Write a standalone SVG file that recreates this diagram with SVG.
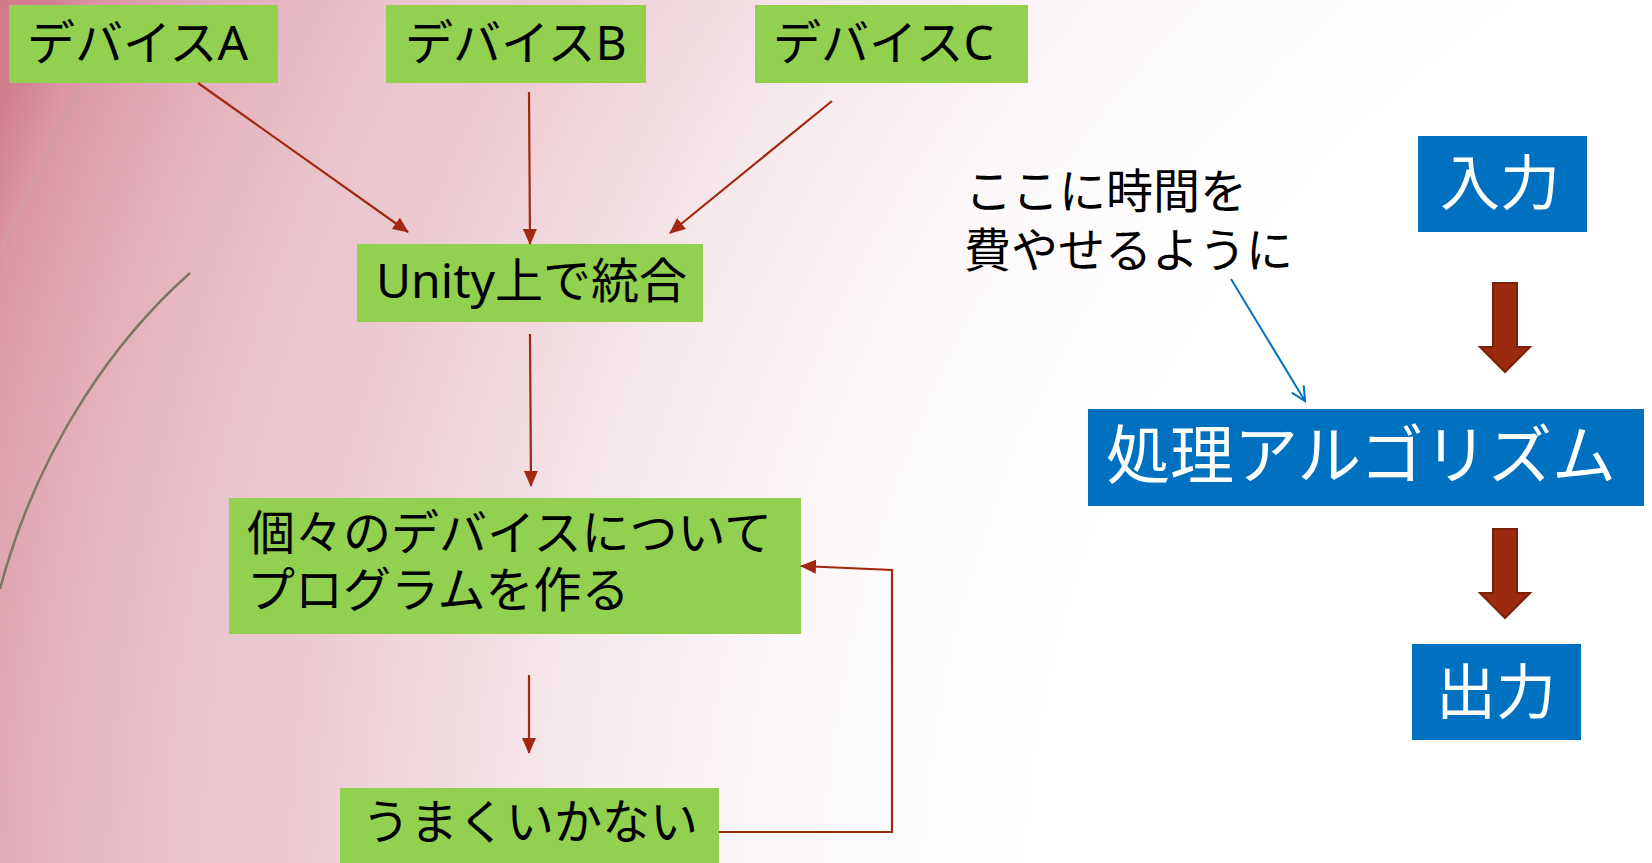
<svg xmlns="http://www.w3.org/2000/svg" width="1652" height="863" viewBox="0 0 1652 863">
<defs>
<radialGradient id="bg" gradientUnits="userSpaceOnUse" cx="2120" cy="920" r="2320">
<stop offset="0" stop-color="#ffffff"/>
<stop offset="0.474" stop-color="#ffffff"/>
<stop offset="0.56" stop-color="#fdfafb"/>
<stop offset="0.664" stop-color="#f7ebee"/>
<stop offset="0.789" stop-color="#eccad1"/>
<stop offset="0.843" stop-color="#e9c3cb"/>
<stop offset="0.902" stop-color="#e4b0bc"/>
<stop offset="0.954" stop-color="#db98a6"/>
<stop offset="0.978" stop-color="#d27d8e"/>
<stop offset="1" stop-color="#d17a8c"/>
</radialGradient>
<marker id="ah" markerUnits="userSpaceOnUse" markerWidth="16" markerHeight="14" refX="15" refY="7" orient="auto">
<path d="M0,0 L16,7 L0,14 Z" fill="#a0290f"/>
</marker>
<marker id="ob" markerUnits="userSpaceOnUse" markerWidth="18" markerHeight="18" refX="15" refY="8" orient="auto">
<path d="M1,1 L15,8 L1,15" fill="none" stroke="#0070c0" stroke-width="2"/>
</marker>
</defs>
<style>
.g{fill:#92d050}
.b{fill:#0070c0}
.t{font-family:"Noto Sans","Noto Sans CJK JP",sans-serif;font-size:48px;fill:#000}
.n{font-family:"Noto Sans","Noto Sans CJK JP",sans-serif;font-size:47px;fill:#000}
.w{font-family:"Noto Sans","Noto Sans CJK JP",sans-serif;fill:#fff}
.c{stroke:#a0290f;stroke-width:2.2;fill:none}
.blk{fill:#9c2a10;stroke:#7a2008;stroke-width:2}
</style>
<rect width="1652" height="863" fill="url(#bg)"/>
<path d="M132,0 C90,70 40,160 0,252" fill="none" stroke="#c9a2a6" stroke-width="1.5"/>
<path d="M190,273 C120,335 40,440 0,589" fill="none" stroke="#7c7860" stroke-width="2.5"/>

<g id="devA"><rect class="g" x="9" y="5" width="269" height="78"/><text class="t" x="27" y="60">デバイスA</text></g>
<g id="devB"><rect class="g" x="386" y="5" width="260" height="78"/><text class="t" x="405" y="60">デバイスB</text></g>
<g id="devC"><rect class="g" x="755" y="5" width="273" height="78"/><text class="t" x="773" y="60">デバイスC</text></g>
<g id="unity"><rect class="g" x="357" y="244" width="346" height="78"/><text class="t" x="376" y="298">Unity上で統合</text></g>
<g id="program"><rect class="g" x="229" y="498" width="572" height="136"/><text class="t" x="247" y="550">個々のデバイスについて<tspan x="247" y="607">プログラムを作る</tspan></text></g>
<g id="fail"><rect class="g" x="340" y="788" width="379" height="80"/><text class="t" x="362" y="839">うまくいかない</text></g>

<g id="note"><text class="n" x="965" y="208">ここに時間を<tspan x="964" y="267">費やせるように</tspan></text></g>

<g id="input"><rect class="b" x="1418" y="136" width="169" height="96"/><text class="w" font-size="60" x="1440" y="205">入力</text></g>
<g id="algo"><rect class="b" x="1088" y="409" width="556" height="97"/><text class="w" font-size="64" x="1106" y="478">処理アルゴリズム</text></g>
<g id="output"><rect class="b" x="1412" y="644" width="169" height="96"/><text class="w" font-size="60" x="1436" y="714">出力</text></g>

<g id="connectors">
<line class="c" x1="198" y1="83" x2="408" y2="232" marker-end="url(#ah)"/>
<line class="c" x1="529" y1="92" x2="530" y2="244" marker-end="url(#ah)"/>
<line class="c" x1="832" y1="101" x2="670" y2="233" marker-end="url(#ah)"/>
<line class="c" x1="530" y1="334" x2="531" y2="486" marker-end="url(#ah)"/>
<line class="c" x1="529" y1="675" x2="529" y2="753" marker-end="url(#ah)"/>
<polyline class="c" points="719,832 892,832 892,570 801,566" marker-end="url(#ah)"/>
<line x1="1231" y1="279" x2="1305" y2="401" stroke="#0070c0" stroke-width="2" marker-end="url(#ob)"/>
<path class="blk" d="M1493,283 L1517,283 L1517,347 L1530,347 L1505,372 L1480,347 L1493,347 Z"/>
<path class="blk" d="M1493,529 L1517,529 L1517,593 L1530,593 L1505,618 L1480,593 L1493,593 Z"/>
</g>
</svg>
